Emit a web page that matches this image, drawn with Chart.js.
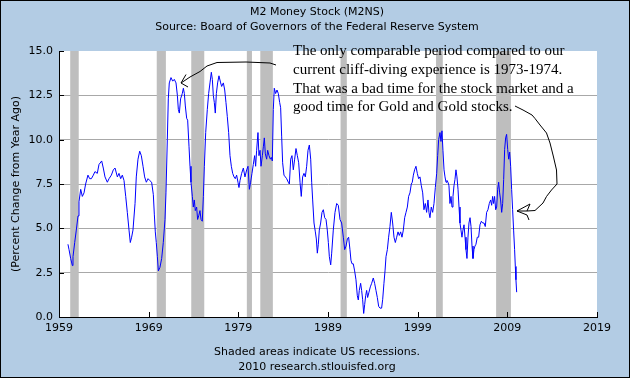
<!DOCTYPE html>
<html><head><meta charset="utf-8">
<script src="https://cdn.jsdelivr.net/npm/chart.js@4/dist/chart.umd.min.js"></script>
<style>html,body{margin:0;padding:0;background:#B3CCE4;overflow:hidden}#wrap{width:630px;height:378px;position:relative}canvas{display:block}</style>
</head><body><div id="wrap"><canvas id="c" width="630" height="378"></canvas></div>
<script>
const dates = [
1960.00,1960.12,1960.30,1960.49,1960.56,1960.75,1960.93,1961.12,1961.23,1961.42,1961.60,1961.79,1961.97,
1962.23,1962.42,1962.61,1962.83,1963.01,1963.27,1963.46,1963.76,1963.94,1964.13,1964.39,1964.58,1964.84,
1965.06,1965.25,1965.51,1965.69,1965.88,1966.06,1966.25,1966.44,1966.62,1966.81,1966.95,1967.10,1967.25,
1967.48,1967.62,1967.81,1968.00,1968.18,1968.37,1968.55,1968.74,1968.93,1969.11,1969.33,1969.52,1969.63,
1969.74,1969.85,1969.97,1970.08,1970.26,1970.45,1970.63,1970.82,1970.93,1971.08,1971.19,1971.30,1971.49,
1971.68,1971.86,1972.05,1972.20,1972.31,1972.42,1972.56,1972.75,1972.87,1972.98,1973.09,1973.24,1973.35,
1973.50,1973.61,1973.72,1973.87,1973.98,1974.09,1974.20,1974.35,1974.46,1974.58,1974.72,1974.84,1974.98,
1975.10,1975.21,1975.36,1975.54,1975.69,1975.84,1975.99,1976.10,1976.21,1976.32,1976.43,1976.55,1976.69,
1976.84,1977.03,1977.14,1977.33,1977.48,1977.62,1977.77,1977.92,1978.07,1978.22,1978.37,1978.52,1978.66,
1978.81,1978.96,1979.07,1979.19,1979.37,1979.56,1979.74,1979.93,1980.08,1980.23,1980.37,1980.52,1980.67,
1980.82,1980.93,1981.04,1981.19,1981.30,1981.42,1981.53,1981.68,1981.79,1981.90,1982.01,1982.16,1982.27,
1982.42,1982.57,1982.68,1982.79,1982.90,1983.01,1983.16,1983.31,1983.46,1983.61,1983.72,1983.83,1983.94,
1984.09,1984.24,1984.39,1984.57,1984.69,1984.84,1984.98,1985.13,1985.28,1985.43,1985.58,1985.73,1985.88,
1986.02,1986.17,1986.32,1986.47,1986.62,1986.77,1986.92,1987.07,1987.18,1987.29,1987.44,1987.59,1987.70,
1987.81,1987.92,1988.03,1988.18,1988.33,1988.48,1988.63,1988.78,1988.92,1989.04,1989.15,1989.30,1989.41,
1989.59,1989.78,1989.97,1990.15,1990.34,1990.52,1990.71,1990.86,1991.01,1991.16,1991.30,1991.45,1991.56,
1991.68,1991.82,1991.97,1992.12,1992.27,1992.38,1992.49,1992.64,1992.75,1992.86,1992.98,1993.09,1993.20,
1993.31,1993.42,1993.57,1993.72,1993.87,1994.05,1994.20,1994.35,1994.50,1994.65,1994.80,1994.98,1995.10,
1995.24,1995.36,1995.47,1995.62,1995.76,1995.91,1996.06,1996.21,1996.36,1996.51,1996.66,1996.81,1996.95,
1997.10,1997.25,1997.40,1997.55,1997.70,1997.85,1997.99,1998.14,1998.29,1998.40,1998.52,1998.66,1998.81,
1998.96,1999.11,1999.26,1999.41,1999.56,1999.70,1999.85,2000.00,2000.15,2000.26,2000.37,2000.52,2000.67,
2000.82,2000.97,2001.12,2001.23,2001.34,2001.49,2001.60,2001.71,2001.82,2001.94,2002.05,2002.16,2002.27,
2002.38,2002.49,2002.60,2002.72,2002.83,2002.94,2003.05,2003.16,2003.27,2003.38,2003.50,2003.61,2003.72,
2003.83,2003.94,2004.05,2004.17,2004.28,2004.39,2004.50,2004.61,2004.72,2004.84,2004.95,2005.06,2005.17,
2005.28,2005.39,2005.50,2005.65,2005.80,2005.95,2006.10,2006.25,2006.40,2006.54,2006.69,2006.84,2006.99,
2007.14,2007.25,2007.36,2007.47,2007.58,2007.70,2007.81,2007.92,2008.03,2008.14,2008.25,2008.37,2008.48,
2008.59,2008.70,2008.81,2008.92,2009.04,2009.15,2009.26,2009.37,2009.48,2009.59,2009.70,2009.81,2009.89,
2009.96,2010.04
];
const values = [
4.1,3.8,3.3,2.9,3.4,4.2,4.9,5.7,6.5,7.2,6.8,7.0,7.5,
8.0,7.8,7.8,8.0,8.2,8.1,8.6,8.8,8.4,7.9,7.6,7.8,8.0,
8.3,8.4,7.9,8.1,7.8,8.0,7.7,6.8,5.9,4.9,4.2,4.5,4.9,
6.4,7.9,8.9,9.35,9.1,8.5,7.9,7.6,7.8,7.7,7.6,6.9,5.8,
4.8,4.2,3.4,2.6,2.8,3.3,4.2,5.5,7.0,10.0,12.3,13.2,13.5,
13.3,13.4,13.2,12.5,11.7,11.5,12.3,12.6,12.9,12.6,11.9,11.2,11.1,
9.6,8.5,7.6,6.8,6.2,6.6,6.0,6.2,5.5,5.7,6.0,5.5,5.4,
6.8,8.5,10.4,11.7,12.6,13.2,13.8,13.4,12.5,12.1,11.5,12.6,13.2,
13.6,13.2,13.0,13.2,12.8,12.1,11.3,10.4,9.1,8.5,8.1,7.9,7.8,
8.0,7.6,7.3,7.7,8.1,8.4,7.9,8.3,8.5,7.2,7.6,8.1,8.6,
9.1,8.5,9.4,10.4,9.1,9.4,8.5,9.1,9.6,10.1,9.2,8.9,9.4,
9.1,8.9,9.0,8.8,11.7,12.9,12.6,12.8,12.6,12.1,11.8,10.2,8.7,
8.0,7.9,7.8,7.6,7.5,8.9,9.1,8.3,8.9,9.5,9.1,8.7,7.6,
6.8,7.9,8.1,7.9,8.5,9.4,9.7,8.9,7.6,6.6,5.3,4.8,4.4,
3.6,4.1,4.9,5.3,5.9,6.05,5.6,5.5,4.9,4.2,3.4,2.94,3.6,
4.9,5.9,6.4,6.3,5.5,5.3,4.5,3.8,4.0,4.4,4.5,3.8,3.2,
3.0,3.0,2.6,2.1,1.2,0.96,1.5,1.9,1.5,1.0,0.2,0.7,1.2,
1.5,1.1,1.4,1.7,1.9,2.2,1.9,1.5,1.1,0.6,0.5,0.5,1.0,
1.9,2.6,3.4,3.8,4.5,5.1,5.9,5.3,4.5,4.2,4.5,4.8,4.6,
4.8,4.5,4.9,5.6,5.9,6.2,6.8,7.0,7.5,7.6,8.0,8.3,8.5,
8.1,7.8,7.9,7.4,7.0,6.05,6.4,5.9,6.6,5.9,5.6,6.2,5.9,
6.4,7.3,8.1,9.1,10.0,10.4,9.9,10.5,9.4,8.3,7.9,7.6,7.7,
7.6,7.4,6.4,6.8,6.2,6.8,7.4,7.75,8.3,7.9,7.2,6.2,5.3,
4.9,4.5,4.9,5.2,4.5,3.8,3.3,4.5,5.3,5.6,5.1,4.0,3.3,
3.8,4.0,4.1,4.5,4.5,5.2,5.4,5.3,5.3,5.1,5.9,6.05,6.4,
6.6,6.3,6.8,6.4,6.8,6.05,6.2,7.2,7.6,7.0,6.6,5.9,6.4,
7.75,9.45,10.1,10.3,9.45,8.9,9.3,8.5,7.2,6.05,4.9,3.8,2.85,
2.1,1.4
];
const recessionStarts = [1960.25,1969.9,1973.75,1979.95,1981.45,1990.4,2001.05,2007.75];
const recessionEnds   = [1961.2,1970.92,1975.2,1980.52,1982.85,1991.1,2001.8,2009.4];
const yTickValues = [0,2.5,5,7.5,10,12.5,15];
const xTickYears = [1959,1969,1979,1989,1999,2009,2019];
const titleLines = ['M2 Money Stock (M2NS)','Source: Board of Governors of the Federal Reserve System'];
const footLines = ['Shaded areas indicate US recessions.','2010 research.stlouisfed.org'];
const noteLines = ['The only comparable period compared to our','current cliff-diving experience is 1973-1974.','That was a bad time for the stock market and a','good time for Gold and Gold stocks.'];
const yAxisTitle = '(Percent Change from Year Ago)';

const FONT = '"DejaVu Sans", Verdana, sans-serif';

const decor = {
  id: 'decor',
  beforeDraw(chart) {
    const ctx = chart.ctx, a = chart.chartArea;
    ctx.save();
    ctx.fillStyle = '#B3CCE4';
    ctx.fillRect(0, 0, chart.width, chart.height);
    ctx.fillStyle = '#FFFFFF';
    ctx.fillRect(a.left, a.top, a.right - a.left, a.bottom - a.top);
    ctx.restore();
  },
  beforeDatasetsDraw(chart) {
    const ctx = chart.ctx, a = chart.chartArea, xs = chart.scales.x;
    ctx.save();
    ctx.fillStyle = '#BEBEBE';
    for (let i = 0; i < recessionStarts.length; i++) {
      const x0 = xs.getPixelForValue(recessionStarts[i]);
      const x1 = xs.getPixelForValue(recessionEnds[i]);
      ctx.fillRect(x0, a.top, x1 - x0, a.bottom - a.top);
    }
    ctx.restore();
  },
  afterDraw(chart) {
    const ctx = chart.ctx, a = chart.chartArea, xs = chart.scales.x, ys = chart.scales.y;
    ctx.save();
    ctx.strokeStyle = '#000'; ctx.lineWidth = 1;
    ctx.beginPath();
    xTickYears.forEach(v => {
      const x = Math.round(xs.getPixelForValue(v)) + 0.5;
      ctx.moveTo(x, a.bottom); ctx.lineTo(x, a.bottom - 5);
    });
    yTickValues.forEach(v => {
      const y = Math.round(ys.getPixelForValue(v)) + 0.5;
      ctx.moveTo(a.left, y); ctx.lineTo(a.left + 5, y);
    });
    ctx.stroke();
    ctx.fillStyle = '#000';
    ctx.font = '11px ' + FONT;
    ctx.textAlign = 'center'; ctx.textBaseline = 'middle';
    ctx.fillText(titleLines[0], 317, 12);
    ctx.fillText(titleLines[1], 317, 27);
    ctx.fillText(footLines[0], 317, 352);
    ctx.fillText(footLines[1], 317, 367);
    ctx.font = '15px "Liberation Serif", "Times New Roman", serif';
    ctx.textAlign = 'left'; ctx.textBaseline = 'alphabetic';
    noteLines.forEach((t, i) => ctx.fillText(t, 293, 55 + i * 18.8));
    ctx.lineWidth = 1;
    ctx.beginPath();
    ctx.moveTo(276, 65); ctx.lineTo(270, 63); ctx.lineTo(246, 62); ctx.lineTo(217, 62.5);
    ctx.lineTo(207, 66); ctx.lineTo(200, 71.5); ctx.lineTo(190, 77); ctx.lineTo(181, 83);
    ctx.moveTo(181, 83); ctx.lineTo(186, 74.5);
    ctx.moveTo(181, 83); ctx.lineTo(188, 87);
    ctx.stroke();
    ctx.beginPath();
    ctx.moveTo(515, 106); ctx.lineTo(523, 110); ctx.lineTo(532, 115); ctx.lineTo(535, 118.5);
    ctx.lineTo(540, 125); ctx.lineTo(546.5, 133); ctx.lineTo(550, 143); ctx.lineTo(553.5, 157);
    ctx.lineTo(556.5, 170); ctx.lineTo(557, 184); ctx.lineTo(551.5, 190); ctx.lineTo(546.5, 196.5);
    ctx.lineTo(543, 203); ctx.lineTo(535, 210.5); ctx.lineTo(527, 211);
    ctx.moveTo(517, 211); ctx.lineTo(530, 204); ctx.lineTo(527, 211); ctx.lineTo(517, 211);
    ctx.moveTo(517, 211); ctx.lineTo(527, 215); ctx.lineTo(529, 220);
    ctx.stroke();
    ctx.strokeStyle = '#000';
    ctx.strokeRect(0.5, 0.5, chart.width - 1, chart.height - 1);
    ctx.restore();
  }
};

new Chart(document.getElementById('c'), {
  type: 'line',
  data: {
    datasets: [{
      data: dates.map((d, i) => ({x: d, y: values[i]})),
      borderColor: '#0000FF',
      borderWidth: 1,
      pointRadius: 0,
      tension: 0,
      fill: false
    }]
  },
  options: {
    responsive: false,
    devicePixelRatio: 1,
    animation: false,
    layout: { padding: { top: 51, right: 33, left: 0, bottom: 0 } },
    plugins: { legend: { display: false }, tooltip: { enabled: false }, title: { display: false } },
    scales: {
      x: {
        type: 'linear', min: 1959, max: 2019,
        afterBuildTicks: s => { s.ticks = xTickYears.map(v => ({value: v})); },
        afterFit: s => { s.height = 61; },
        grid: { display: false, drawTicks: false, tickLength: 0 },
        border: { display: true, color: '#000', width: 1 },
        ticks: { color: '#000', font: { family: FONT, size: 11 }, padding: 5, maxRotation: 0, autoSkip: false,
                 callback: v => String(v) }
      },
      y: {
        min: 0, max: 15,
        afterBuildTicks: s => { s.ticks = yTickValues.map(v => ({value: v})); },
        afterFit: s => { s.width = 59; },
        grid: { drawTicks: false, color: c => (c.tick && c.tick.value > 0 && c.tick.value < 15) ? '#A8A8A8' : 'rgba(0,0,0,0)' },
        border: { display: true, color: '#000', width: 1 },
        ticks: { color: '#000', font: { family: FONT, size: 11 }, padding: 6, callback: v => Number(v).toFixed(1) },
        title: { display: true, text: yAxisTitle, color: '#000', font: { family: FONT, size: 11 }, padding: { top: 10, bottom: 0 } }
      }
    }
  },
  plugins: [decor]
});
</script>
</body></html>
